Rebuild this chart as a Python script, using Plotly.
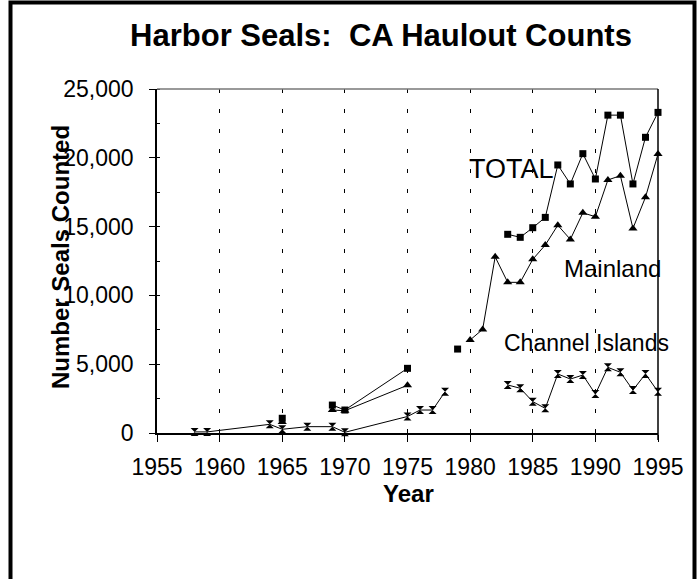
import plotly.graph_objects as go

years = [1958, 1959, 1964, 1965, 1967, 1969, 1970, 1975, 1976, 1977, 1978,
         1979, 1980, 1981, 1982, 1983, 1984, 1985, 1986, 1987, 1988, 1989,
         1990, 1991, 1992, 1993, 1994, 1995]
total = [None, None, None, 1070, None, 2030, 1670, 4700, None, None, None,
         6100, None, None, None, 14440, 14220, 14920, 15670, 19480, 18100, 20300,
         18460, 23100, 23100, 18100, 21490, 23300]
mainland = [None, None, None, 800, None, 1670, 1620, 3470, None, None, None,
            None, 6760, 7530, 12800, 10950, 10950, 12620, 13660, 15100, 14070, 16000,
            15720, 18390, 18700, 14870, 17130, 20280]
channel = [80, 80, 630, 270, 460, 460, 50, 1200, 1670, 1670, 3000,
           None, None, None, None, 3490, 3250, 2280, 1790, 4290, 3920, 4210,
           2830, 4770, 4410, 3120, 4290, 3000]

x_ticks = [1955, 1960, 1965, 1970, 1975, 1980, 1985, 1990, 1995]
y_ticks = [0, 5000, 10000, 15000, 20000, 25000]

FONT = "Liberation Sans, Arial, sans-serif"

fig = go.Figure()
fig.add_trace(go.Scatter(x=years, y=total, mode="lines+markers", name="TOTAL",
                         line=dict(color="black", width=1),
                         marker=dict(symbol="square", size=7, color="black"),
                         connectgaps=False, cliponaxis=False))
fig.add_trace(go.Scatter(x=years, y=mainland, mode="lines+markers", name="Mainland",
                         line=dict(color="black", width=1),
                         marker=dict(symbol="triangle-up", size=8, color="black"),
                         connectgaps=False, cliponaxis=False))
fig.add_trace(go.Scatter(x=years, y=channel, mode="lines+markers", name="Channel Islands",
                         line=dict(color="black", width=1),
                         marker=dict(symbol="hourglass", size=8, color="black"),
                         connectgaps=False, cliponaxis=False))

W, H = 697, 579
L, R, T, B = 157, 658, 89, 433
pw, ph = R - L, B - T

def px(xp):
    return (xp - L) / pw

def py(yp):
    return (B - yp) / ph

fig.update_layout(
    width=W, height=H,
    margin=dict(l=L, r=W - R, t=T, b=H - B),
    paper_bgcolor="white", plot_bgcolor="white",
    showlegend=False,
    font=dict(family=FONT, color="black"),
    title=dict(text="<b>Harbor Seals:&nbsp; CA Haulout Counts</b>",
               x=381 / W, xanchor="center", y=1 - 35 / H, yanchor="middle",
               yref="container", font=dict(size=31, family=FONT, color="black")),
    xaxis=dict(range=[1955, 1995], tickvals=x_ticks, ticktext=[str(v) for v in x_ticks],
               showline=True, linecolor="black", linewidth=1.5,
               ticks="outside", ticklen=7, tickcolor="black", tickwidth=1,
               ticklabelstandoff=6,
               tickfont=dict(size=23, family=FONT, color="black"),
               showgrid=True, gridcolor="black", gridwidth=1, griddash="4px,16px",
               zeroline=False, fixedrange=True),
    yaxis=dict(range=[0, 25000], tickvals=y_ticks, tickformat=",",
               showline=True, linecolor="black", linewidth=1.5,
               ticks="outside", ticklen=6, tickcolor="black", tickwidth=1,
               ticklabelstandoff=11,
               minor=dict(dtick=2500, ticks="inside", ticklen=3, tickcolor="black", showgrid=False),
               tickfont=dict(size=23, family=FONT, color="black"),
               showgrid=False, zeroline=False, fixedrange=True),
    shapes=[
        dict(type="line", xref="paper", yref="paper", x0=0, x1=1, y0=1, y1=1,
             line=dict(color="#777777", width=1.5)),
        dict(type="line", xref="paper", yref="paper", x0=1, x1=1, y0=1, y1=py(440),
             line=dict(color="black", width=1.5)),
        dict(type="rect", xref="paper", yref="paper", x0=px(10.5), x1=px(694.5),
             y0=py(2.5), y1=py(640), line=dict(color="black", width=4)),
    ],
    annotations=[
        dict(text="<b>Year</b>", xref="paper", yref="paper", x=px(408), y=py(493),
             xanchor="center", yanchor="middle", showarrow=False,
             font=dict(size=24, family=FONT, color="black")),
        dict(text="<b>Number Seals Counted</b>", xref="paper", yref="paper", x=px(60), y=py(257),
             xanchor="center", yanchor="middle", showarrow=False, textangle=-90,
             font=dict(size=24, family=FONT, color="black")),
        dict(text="TOTAL", xref="x", yref="y", x=1983.3, y=19200,
             xanchor="center", yanchor="middle", showarrow=False,
             font=dict(size=27, family=FONT, color="black")),
        dict(text="Mainland", xref="x", yref="y", x=1991.4, y=11950,
             xanchor="center", yanchor="middle", showarrow=False,
             font=dict(size=24, family=FONT, color="black")),
        dict(text="Channel Islands", xref="x", yref="y", x=1989.3, y=6550,
             xanchor="center", yanchor="middle", showarrow=False,
             font=dict(size=23, family=FONT, color="black")),
    ],
)

fig.write_html("out.html", config={"displayModeBar": False},
               post_script="document.body.style.margin='0';document.body.style.padding='0';")
